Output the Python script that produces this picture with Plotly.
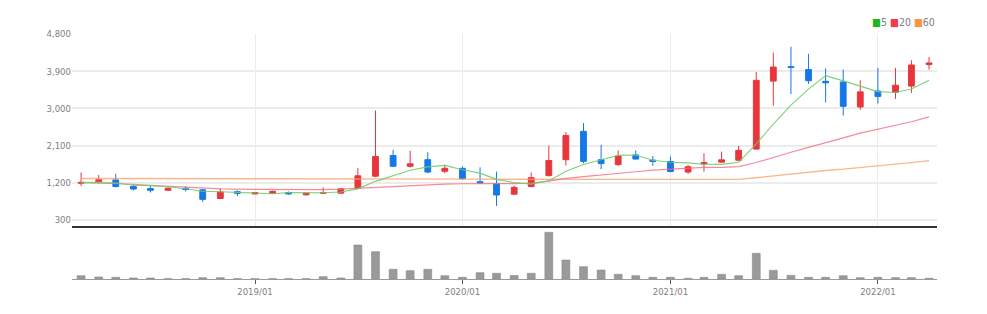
import plotly.graph_objects as go

# Monthly candles, 2018/03 - 2022/04
months = [
    "2018-03-01", "2018-04-01", "2018-05-01", "2018-06-01", "2018-07-01", "2018-08-01",
    "2018-09-01", "2018-10-01", "2018-11-01", "2018-12-01", "2019-01-01", "2019-02-01",
    "2019-03-01", "2019-04-01", "2019-05-01", "2019-06-01", "2019-07-01", "2019-08-01",
    "2019-09-01", "2019-10-01", "2019-11-01", "2019-12-01", "2020-01-01", "2020-02-01",
    "2020-03-01", "2020-04-01", "2020-05-01", "2020-06-01", "2020-07-01", "2020-08-01",
    "2020-09-01", "2020-10-01", "2020-11-01", "2020-12-01", "2021-01-01", "2021-02-01",
    "2021-03-01", "2021-04-01", "2021-05-01", "2021-06-01", "2021-07-01", "2021-08-01",
    "2021-09-01", "2021-10-01", "2021-11-01", "2021-12-01", "2022-01-01", "2022-02-01",
    "2022-03-01", "2022-04-01",
]

open_ = [1190, 1225, 1270, 1110, 1060, 1020, 1065, 1030, 820, 985,
         930, 945, 965, 910, 945, 950, 1070, 1360, 1860, 1600,
         1760, 1480, 1550, 1225, 1175, 925, 1110, 1375, 1760, 2445,
         1760, 1640, 1875, 1750, 1715, 1460, 1655, 1700, 1745, 2015,
         3660, 4010, 3940, 3655, 3640, 3035, 3420, 3390, 3540, 4060]
high = [1450, 1390, 1415, 1165, 1125, 1090, 1125, 1045, 1070, 1020,
        980, 1010, 990, 960, 1090, 1065, 1555, 2950, 1998, 1975,
        1940, 1635, 1595, 1575, 1470, 1130, 1450, 2095, 2425, 2645,
        2120, 1985, 1985, 1850, 1835, 1635, 1915, 1955, 2095, 3880,
        4345, 4490, 4320, 3965, 3940, 3680, 3980, 3980, 4165, 4245]
low = [1125, 1190, 1090, 1010, 965, 1005, 990, 740, 815, 880,
       920, 935, 910, 890, 935, 935, 1045, 1335, 1580, 1570,
       1430, 1430, 1270, 1190, 640, 910, 1095, 1350, 1620, 1675,
       1530, 1610, 1765, 1610, 1455, 1415, 1470, 1690, 1735, 2010,
       3065, 3350, 3590, 3145, 2825, 2970, 3115, 3230, 3375, 3940]
close = [1210, 1275, 1110, 1050, 1020, 1070, 1040, 800, 980, 945,
         965, 995, 930, 950, 965, 1055, 1370, 1835, 1600, 1660,
         1460, 1550, 1300, 1200, 905, 1090, 1325, 1740, 2345, 1720,
         1665, 1850, 1775, 1720, 1475, 1590, 1690, 1755, 1985, 3680,
         4000, 3990, 3670, 3620, 3050, 3400, 3290, 3560, 4050, 4100]

# Moving averages (5 / 20 / 60 months)
ma5 = [1205, 1210, 1195, 1140, 1133, 1105, 1058, 996, 982, 967,
       946, 937, 963, 957, 961, 979, 1054, 1235, 1365, 1504,
       1585, 1621, 1514, 1434, 1283, 1209, 1164, 1252, 1481, 1644,
       1759, 1864, 1871, 1746, 1697, 1682, 1650, 1646, 1699, 2140,
       2622, 3082, 3465, 3792, 3666, 3546, 3406, 3384, 3470, 3680]
ma20 = [1210, 1200, 1185, 1165, 1140, 1115, 1090, 1070, 1055, 1045,
        1040, 1035, 1030, 1030, 1035, 1045, 1065, 1095, 1120, 1141,
        1154, 1168, 1177, 1185, 1179, 1180, 1194, 1241, 1309, 1348,
        1383, 1426, 1468, 1507, 1532, 1559, 1575, 1571, 1590, 1691,
        1818, 1940, 2059, 2180, 2287, 2402, 2501, 2592, 2677, 2796]
ma60 = [1305, 1305, 1304, 1303, 1302, 1300, 1299, 1298, 1296, 1295,
        1294, 1293, 1291, 1290, 1289, 1288, 1288, 1290, 1291, 1292,
        1292, 1291, 1290, 1288, 1285, 1283, 1282, 1283, 1285, 1285,
        1285, 1286, 1286, 1285, 1283, 1282, 1282, 1282, 1283, 1324,
        1371, 1418, 1459, 1499, 1530, 1567, 1602, 1641, 1688, 1736]

volume = [33000, 20000, 17000, 10000, 10000, 3000, 3000, 13000, 13000, 3000,
          3000, 3000, 3000, 3000, 23000, 10000, 340000, 273000, 97000, 83000,
          97000, 33000, 17000, 63000, 57000, 35000, 57000, 467000, 190000, 123000,
          90000, 47000, 33000, 17000, 17000, 7000, 17000, 47000, 33000, 257000,
          87000, 37000, 17000, 17000, 33000, 13000, 17000, 13000, 13000, 7000]

price_ticks = [300, 1200, 2100, 3000, 3900, 4800]
price_tick_text = ["300", "1,200", "2,100", "3,000", "3,900", "4,800"]
year_ticks = ["2019-01-01", "2020-01-01", "2021-01-01", "2022-01-01"]
year_tick_text = ["2019/01", "2020/01", "2021/01", "2022/01"]

UP = "#e8363c"
DOWN = "#1578e6"
FONT_FAMILY = "DejaVu Sans Condensed, Arial, sans-serif"
TICK_FONT = dict(family=FONT_FAMILY, size=9.5, color="#808080")

fig = go.Figure()

fig.add_trace(go.Candlestick(
    x=months, open=open_, high=high, low=low, close=close,
    increasing=dict(line=dict(color=UP, width=1), fillcolor=UP),
    decreasing=dict(line=dict(color=DOWN, width=1), fillcolor=DOWN),
    whiskerwidth=0, xaxis="x", yaxis="y", showlegend=False,
))

fig.add_trace(go.Scatter(x=months, y=ma60, mode="lines", xaxis="x", yaxis="y",
                         line=dict(color="rgba(245,160,100,0.75)", width=1.4),
                         showlegend=False))
fig.add_trace(go.Scatter(x=months, y=ma20, mode="lines", xaxis="x", yaxis="y",
                         line=dict(color="rgba(240,110,130,0.8)", width=1.2),
                         showlegend=False))
fig.add_trace(go.Scatter(x=months, y=ma5, mode="lines", xaxis="x", yaxis="y",
                         line=dict(color="rgba(110,205,110,0.9)", width=1.1),
                         showlegend=False))

fig.add_trace(go.Bar(x=months, y=volume, xaxis="x2", yaxis="y2",
                     width=1.2e9, marker=dict(color="#9a9a9a", line=dict(color="#8a8a8a", width=0.6)),
                     showlegend=False))

x_range = ["2018-02-13", "2022-04-15"]

fig.update_layout(
    width=987, height=314,
    margin=dict(l=72, r=50, t=34, b=35),
    paper_bgcolor="white", plot_bgcolor="white",
    boxgap=0.48,
    xaxis=dict(type="date", domain=[0, 1], anchor="y", range=x_range,
               rangeslider=dict(visible=False),
               tickvals=year_ticks, showticklabels=False, ticks="",
               showgrid=True, gridcolor="#ececec", gridwidth=1,
               showline=True, linecolor="#333333", linewidth=2, zeroline=False),
    yaxis=dict(domain=[0.2163, 1], range=[155, 4800],
               tickvals=price_ticks, ticktext=price_tick_text, tickfont=TICK_FONT,
               showgrid=True, gridcolor="#ececec", gridwidth=1.5,
               zeroline=False, showline=False, ticks=""),
    xaxis2=dict(type="date", domain=[0, 1], anchor="y2", range=x_range, matches="x",
                tickvals=year_ticks, ticktext=year_tick_text, tickfont=TICK_FONT,
                ticks="outside", ticklen=4, tickcolor="#555555",
                showgrid=False, showline=True, linecolor="#9a9a9a", linewidth=1,
                zeroline=False),
    yaxis2=dict(domain=[0, 0.2], range=[0, 490000], showticklabels=False,
                showgrid=False, zeroline=False, showline=False, ticks=""),
    annotations=[dict(
        xref="paper", yref="paper", x=1.0, y=1.05, xanchor="right", yanchor="middle",
        showarrow=False,
        text=('<span style="color:#22b322">■</span>5 '
              '<span style="color:#f03c4a">■</span>20 '
              '<span style="color:#f5953f">■</span>60'),
        font=dict(family=FONT_FAMILY, size=10.5, color="#808080"),
    )],
)

fig.write_html("out.html")
